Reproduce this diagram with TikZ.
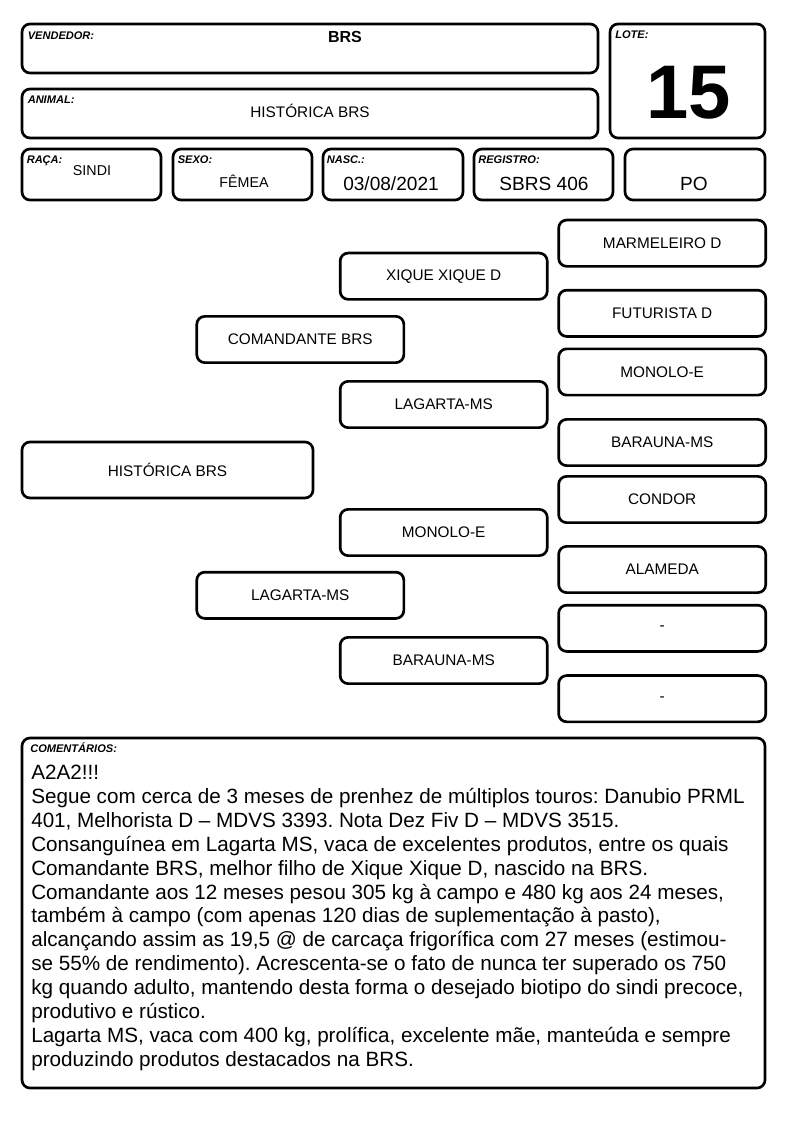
\documentclass[tikz,border=0pt]{standalone}
\usepackage{fontspec}
\setmainfont{Liberation Sans}
\usetikzlibrary{positioning}
\frenchspacing

\tikzset{
  caixa/.style={draw, rounded corners=6pt, line width=2pt, inner sep=0pt},
  rotulo/.style={inner sep=0pt, anchor=base west, font=\fontsize{8.3}{9}\selectfont\bfseries\itshape},
  valor/.style={inner sep=0pt, anchor=base},
  nome/.style={caixa, minimum width=155.3pt, minimum height=34.7pt, font=\fontsize{11.5}{13}\selectfont},
}

\begin{document}
\begin{tikzpicture}[x=0.75pt, y=-0.75pt]
  \useasboundingbox (0,0) rectangle (794,1123);
  % cabecalho
  \node[caixa, minimum width=432pt, minimum height=36.75pt] (vend) at (310,48.5) {};
  \node[caixa, minimum width=432pt, minimum height=36.75pt] (animal) at (310,113.5) {};
  \node[caixa, minimum width=116.25pt, minimum height=85.5pt] (lote) at (687.5,81) {};
  \node[rotulo] (lvend) at (27.5,39.3) {VENDEDOR:};
  \node[rotulo] (lanimal) at (27.5,103.5) {ANIMAL:};
  \node[rotulo] (llote) at (615,38.3) {LOTE:};
  \node[valor, font=\fontsize{12}{14}\selectfont\bfseries] (tvend) at (345,43) {BRS};
  \node[valor, font=\fontsize{11.5}{13}\selectfont] (tanimal) at (310,117.5) {HISTÓRICA BRS};
  \node[valor, font=\fontsize{57}{60}\selectfont\bfseries] (tlote) at (688.5,118.3) {15};
  % linha de dados
  \node[caixa, minimum width=104.25pt, minimum height=38.25pt] (raca) at (91.5,174.5) {};
  \node[caixa, minimum width=104.25pt, minimum height=38.25pt] (sexo) at (242.5,174.5) {};
  \node[caixa, minimum width=105pt, minimum height=38.25pt] (nasc) at (393,174.5) {};
  \node[caixa, minimum width=104.25pt, minimum height=38.25pt] (registro) at (543.5,174.5) {};
  \node[caixa, minimum width=105pt, minimum height=38.25pt] (po) at (695,174.5) {};
  \node[rotulo] (lraca) at (26.5,163.5) {RAÇA:};
  \node[rotulo] (lsexo) at (177.5,163.5) {SEXO:};
  \node[rotulo] (lnasc) at (326.5,163.5) {NASC.:};
  \node[rotulo] (lregistro) at (478,163.5) {REGISTRO:};
  \node[valor, font=\fontsize{10.7}{12}\selectfont] (traca) at (92,176) {SINDI};
  \node[valor, font=\fontsize{10.7}{12}\selectfont] (tsexo) at (244,188) {FÊMEA};
  \node[valor, font=\fontsize{14.3}{16}\selectfont] (tnasc) at (391,191) {03/08/2021};
  \node[valor, font=\fontsize{14.3}{16}\selectfont] (tregistro) at (544,191) {SBRS 406};
  \node[valor, font=\fontsize{14.3}{16}\selectfont] (tpo) at (694,191) {PO};
  % genealogia
  \node[nome, minimum width=218.25pt, minimum height=42pt] (hist) at (167.5,470) {HISTÓRICA BRS};
  \node[nome] (pai) at (300.3,339.5) {COMANDANTE BRS};
  \node[nome] (mae) at (300.3,595.3) {LAGARTA-MS};
  \node[nome] (avo1) at (443.7,276.2) {XIQUE XIQUE D};
  \node[nome] (avo2) at (443.7,404.5) {LAGARTA-MS};
  \node[nome] (avo3) at (443.7,532.5) {MONOLO-E};
  \node[nome] (avo4) at (443.7,660.5) {BARAUNA-MS};
  \node[nome] (bis1) at (662.2,243.2) {MARMELEIRO D};
  \node[nome] (bis2) at (662.2,313.3) {FUTURISTA D};
  \node[nome] (bis3) at (662.2,372) {MONOLO-E};
  \node[nome] (bis4) at (662.2,442.5) {BARAUNA-MS};
  \node[nome] (bis5) at (662.2,499.5) {CONDOR};
  \node[nome] (bis6) at (662.2,569.5) {ALAMEDA};
  \node[nome] (bis7) at (662.2,628.3) {-};
  \node[nome] (bis8) at (662.2,698.7) {-};
  % comentarios
  \node[caixa, minimum width=557.25pt, minimum height=262.5pt] (coment) at (393.5,913) {};
  \node[rotulo] (lcoment) at (30,752.7) {COMENTÁRIOS:};
  \node[inner sep=0pt, anchor=north west, align=left, font=\fontsize{15.5}{17.9}\selectfont] (tcoment) at (31,765) {A2A2!!!\\
    Segue com cerca de 3 meses de prenhez de múltiplos touros: Danubio PRML\\
    401, Melhorista D – MDVS 3393. Nota Dez Fiv D – MDVS 3515.\\
    Consanguínea em Lagarta MS, vaca de excelentes produtos, entre os quais\\
    Comandante BRS, melhor filho de Xique Xique D, nascido na BRS.\\
    Comandante aos 12 meses pesou 305 kg à campo e 480 kg aos 24 meses,\\
    também à campo (com apenas 120 dias de suplementação à pasto),\\
    alcançando assim as 19,5 @ de carcaça frigorífica com 27 meses (estimou-\\
    se 55\% de rendimento). Acrescenta-se o fato de nunca ter superado os 750\\
    kg quando adulto, mantendo desta forma o desejado biotipo do sindi precoce,\\
    produtivo e rústico.\\
    Lagarta MS, vaca com 400 kg, prolífica, excelente mãe, manteúda e sempre\\
    produzindo produtos destacados na BRS.};
\end{tikzpicture}
\end{document}
